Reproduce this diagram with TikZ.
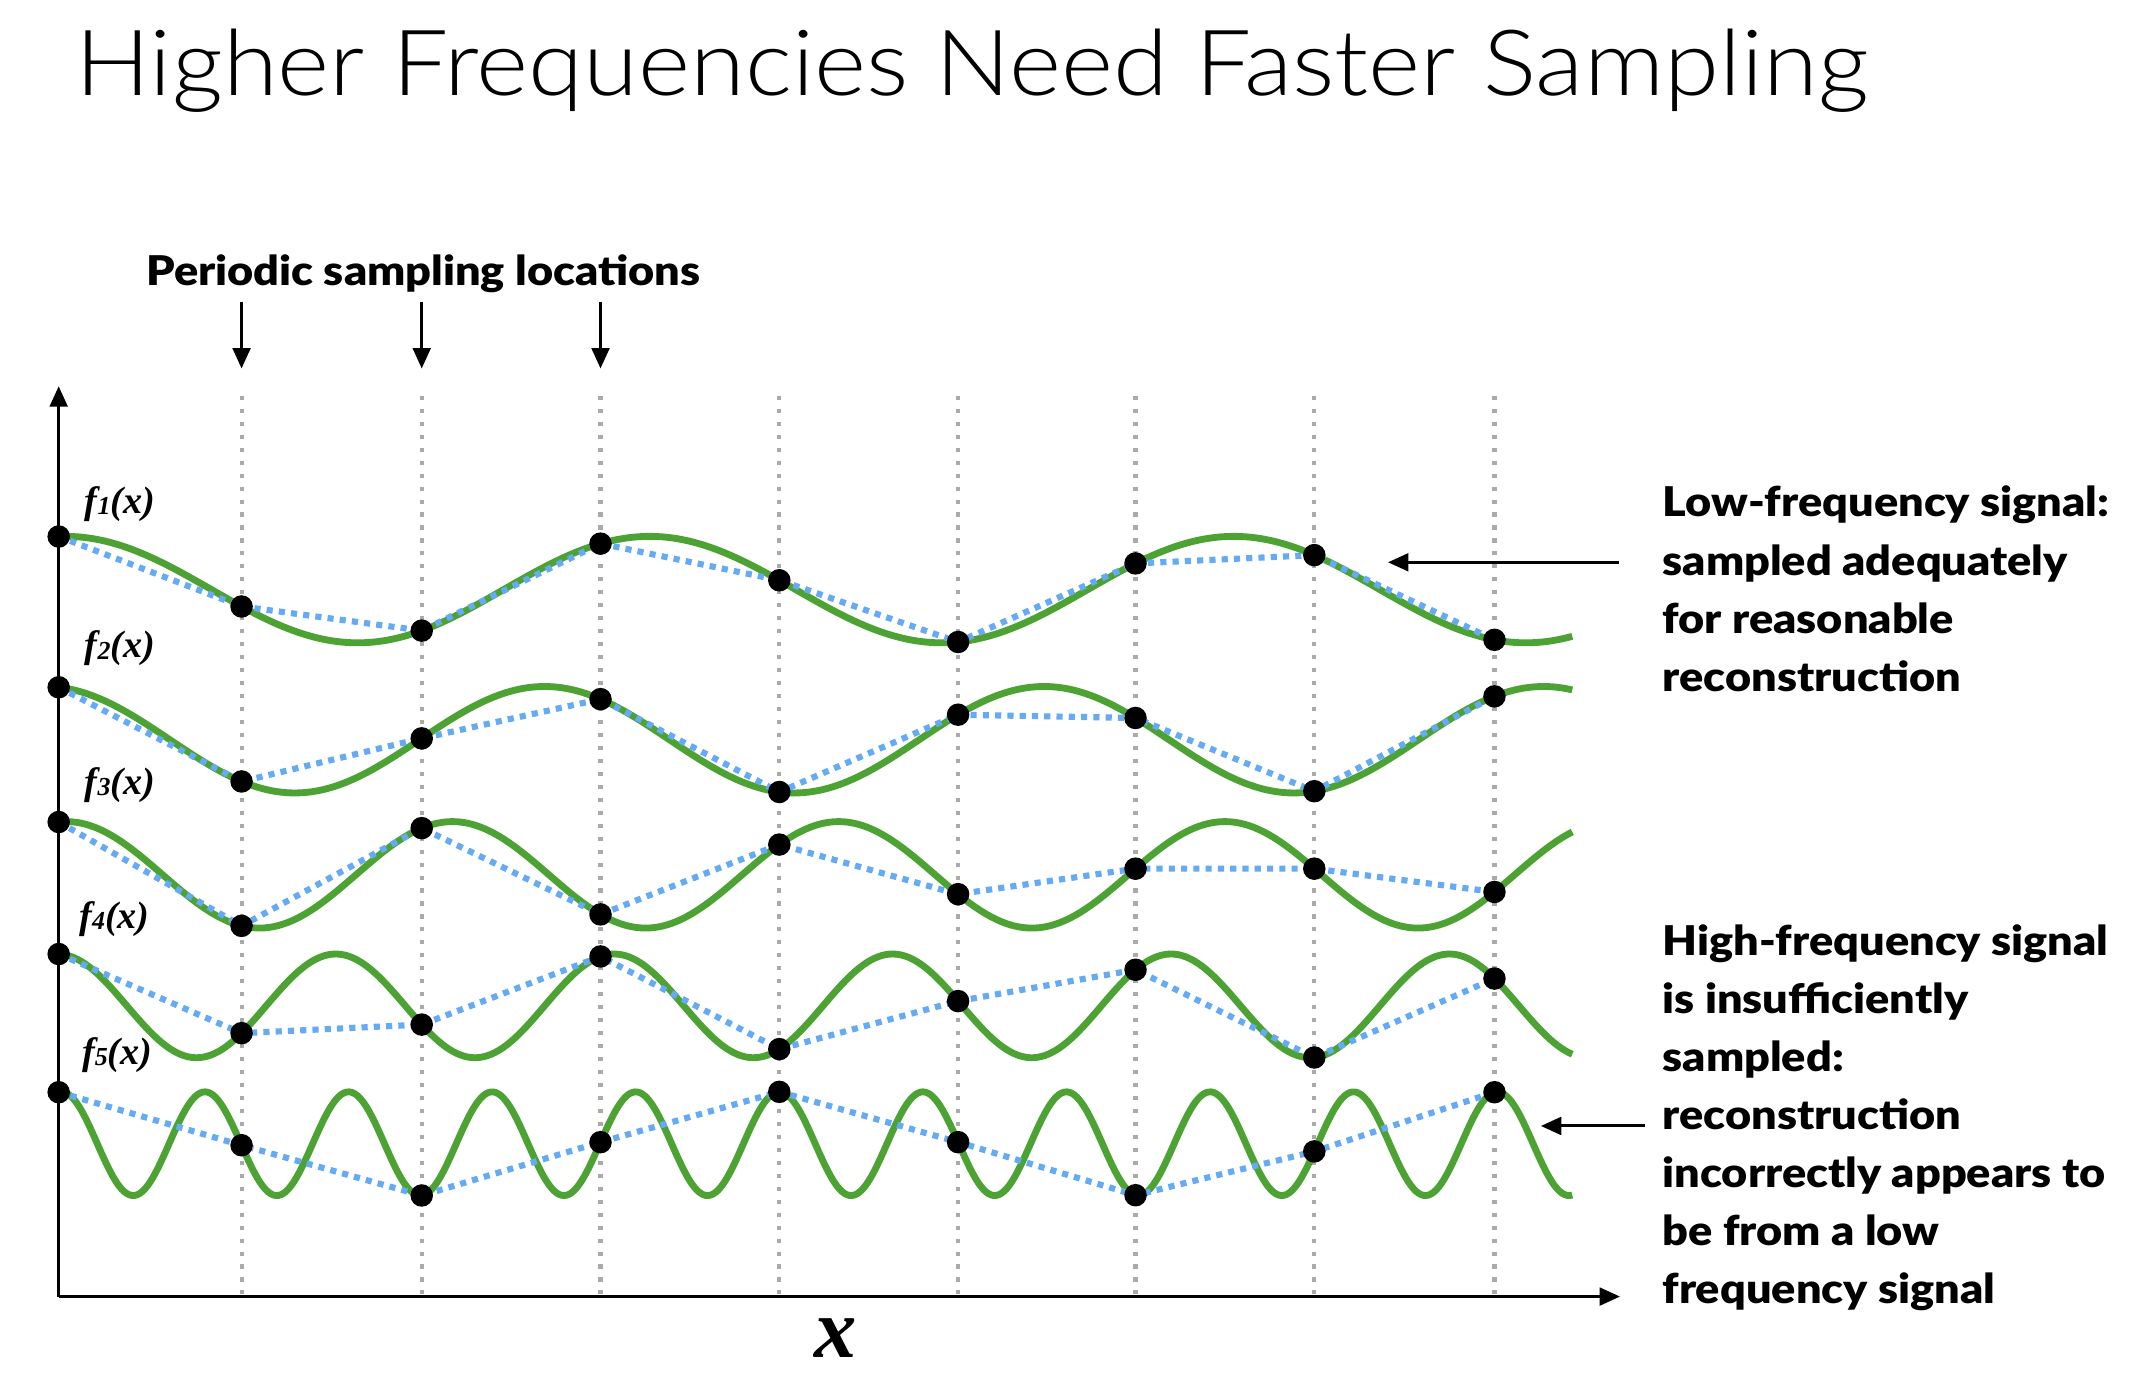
\documentclass[tikz,border=0pt]{standalone}
\usepackage{fontspec}
\usetikzlibrary{arrows.meta}
\IfFontExistsTF{Lato Light}{\newfontfamily\titlefont{Lato Light}[FakeStretch=1.09]}{\newfontfamily\titlefont{Lato}[FakeStretch=1.09]}
\IfFontExistsTF{Lato Black}{\newfontfamily\heavyfont{Lato Black}[FakeStretch=1.10]}{\newfontfamily\heavyfont{Lato}[FakeStretch=1.145,UprightFeatures={FakeBold=1}]}
\newfontfamily\tms{Liberation Serif}
\definecolor{sgreen}{RGB}{76,163,51}
\definecolor{sblue}{RGB}{100,170,245}
\definecolor{sgray}{RGB}{170,170,170}
\begin{document}
\begin{tikzpicture}[x=1pt,y=-1pt,
  declare function={
    fa(\x)=432+39*cos(((\x-262)/428)*360);
    fb(\x)=542+39*cos(((\x-216)/366)*360);
    fc(\x)=641+39*cos(((\x-190)/283)*360);
    fd(\x)=737+38*cos(((\x-144)/204)*360);
    fe(\x)=838-38*cos(((\x-571)/105.2)*360);
  },
  sig/.style={draw=sgreen, line width=5pt},
  recon/.style={draw=sblue, line width=4.5pt, dash pattern=on 4.5pt off 4.5pt},
  gridline/.style={draw=sgray, line width=3pt, dash pattern=on 3pt off 6.5pt},
  axisline/.style={draw=black, line width=2.2pt, -{Triangle[width=13pt,length=15pt]}},
  pointer/.style={draw=black, line width=2.2pt, -{Triangle[width=13pt,length=15pt]}},
  dot/.style={circle, fill=black, inner sep=0pt, minimum size=16.5pt},
  boldlbl/.style={inner sep=0pt, font=\heavyfont\fontsize{30}{42.6}\selectfont},
  flabel/.style={inner sep=0pt, font=\tms\bfseries\itshape\fontsize{28}{30}\selectfont},
]
\fill[white] (0,0) rectangle (1568,1008);
\useasboundingbox (0,0) rectangle (1568,1008);

% title
\node[inner sep=0pt, anchor=base west, font=\titlefont\fontsize{67}{80}\selectfont] (title) at (55,70) {Higher Frequencies Need Faster Sampling};

% sampling locations label and arrows
\node[boldlbl, anchor=base west] (plabel) at (107,209) {Periodic sampling locations};
\foreach \i/\s in {1/177,2/309,3/440}{
  \coordinate (ps\i) at (\s,221);
  \coordinate (pe\i) at (\s,270);
  \draw[pointer] (ps\i) -- (pe\i);
}

% vertical sampling lines
\foreach \s in {177,309,440,571,702,832,963,1095}{
  \draw[gridline] (\s,290) -- (\s,948);
}

% sample coordinates
\foreach \k/\s in {0/43,1/177,2/309,3/440,4/571,5/702,6/832,7/963,8/1095}{
  \coordinate (a\k) at (\s,{fa(\s)});
  \coordinate (b\k) at (\s,{fb(\s)});
  \coordinate (c\k) at (\s,{fc(\s)});
  \coordinate (d\k) at (\s,{fd(\s)});
  \coordinate (e\k) at (\s,{fe(\s)});
}

% signals
\draw[sig] plot[domain=43:1152, samples=300, smooth, variable=\t] (\t,{fa(\t)});
\draw[sig] plot[domain=43:1152, samples=300, smooth, variable=\t] (\t,{fb(\t)});
\draw[sig] plot[domain=43:1152, samples=300, smooth, variable=\t] (\t,{fc(\t)});
\draw[sig] plot[domain=43:1152, samples=400, smooth, variable=\t] (\t,{fd(\t)});
\draw[sig] plot[domain=43:1152, samples=600, smooth, variable=\t] (\t,{fe(\t)});

% reconstructions
\foreach \r in {a,b,c,d,e}{
  \draw[recon] (\r0) -- (\r1) -- (\r2) -- (\r3) -- (\r4) -- (\r5) -- (\r6) -- (\r7) -- (\r8);
}

% axes
\coordinate (origin) at (43,950);
\coordinate (ytip) at (43,283);
\coordinate (xtip) at (1187,950);
\draw[axisline] (origin) -- (ytip);
\draw[axisline] (origin) -- (xtip);

% dots
\foreach \r in {a,b,c,d,e}{
  \foreach \k in {0,...,8}{
    \node[dot] (\r dot\k) at (\r\k) {};
  }
}

% function labels
\node[flabel, anchor=base west] (l1) at (62,376) {f\raisebox{-1pt}{\fontsize{19}{20}\selectfont 1}(x)};
\node[flabel, anchor=base west] (l2) at (62,482) {f\raisebox{-1pt}{\fontsize{19}{20}\selectfont 2}(x)};
\node[flabel, anchor=base west] (l3) at (62,582) {f\raisebox{-1pt}{\fontsize{19}{20}\selectfont 3}(x)};
\node[flabel, anchor=base west] (l4) at (58,680) {f\raisebox{-1pt}{\fontsize{19}{20}\selectfont 4}(x)};
\node[flabel, anchor=base west] (l5) at (60,780) {f\raisebox{-1pt}{\fontsize{19}{20}\selectfont 5}(x)};

% x label
\node[inner sep=0pt, anchor=base, font=\tms\bfseries\itshape\fontsize{62}{64}\selectfont] (xlabel) at (612,995) {x};

% right annotations
\node[boldlbl, anchor=north west, align=left] (lowtxt) at (1218,356) {Low-frequency signal:\\sampled adequately\\for reasonable\\reconstruction};
\coordinate (lowS) at (1186,412);
\coordinate (lowE) at (1017,412);
\draw[pointer] (lowS) -- (lowE);

\node[boldlbl, anchor=north west, align=left] (hightxt) at (1218,677) {High-frequency signal\\is insufficiently\\sampled:\\reconstruction\\incorrectly appears to\\be from a low\\frequency signal};
\coordinate (highS) at (1205,825);
\coordinate (highE) at (1129,825);
\draw[pointer] (highS) -- (highE);
\end{tikzpicture}
\end{document}
